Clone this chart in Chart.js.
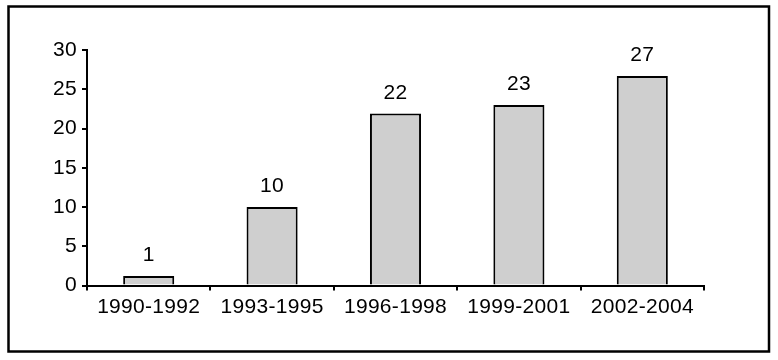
<!DOCTYPE html>
<html>
<head>
<meta charset="utf-8">
<script src="https://cdn.jsdelivr.net/npm/chart.js@4/dist/chart.umd.min.js"></script>
<style>
html,body{margin:0;padding:0;background:#fff;}
#wrap{width:778px;height:360px;position:relative;}
</style>
</head>
<body>
<div id="wrap"><canvas id="c" width="778" height="360"></canvas></div>
<script>
const categories = ["1990-1992", "1993-1995", "1996-1998", "1999-2001", "2002-2004"];
const values = [1.2, 10, 21.9, 23, 26.7];
const valueLabels = ["1", "10", "22", "23", "27"];
const yTicks = [0, 5, 10, 15, 20, 25, 30];

const FONT = "'Liberation Sans', Arial, Helvetica, sans-serif";
const FSIZE = 21;

const framePlugin = {
  id: 'frame',
  beforeDraw(chart) {
    const ctx = chart.ctx;
    ctx.letterSpacing = '0.3px';
    ctx.save();
    ctx.fillStyle = '#fff';
    ctx.fillRect(0, 0, chart.width, chart.height);
    ctx.strokeStyle = '#000';
    ctx.lineWidth = 2.5;
    ctx.strokeRect(8.5, 6.5, 760.5, 345);
    ctx.restore();
  },
  afterDatasetsDraw(chart) {
    const ctx = chart.ctx;
    const meta = chart.getDatasetMeta(0);
    ctx.save();
    ctx.font = FSIZE + 'px ' + FONT;
    ctx.fillStyle = '#000';
    ctx.textAlign = 'center';
    ctx.textBaseline = 'alphabetic';
    meta.data.forEach((bar, i) => {
      ctx.fillText(valueLabels[i], bar.x, bar.y - 15);
    });
    ctx.restore();
  }
};

new Chart(document.getElementById('c'), {
  type: 'bar',
  data: {
    labels: categories,
    datasets: [{
      data: values,
      backgroundColor: '#cfcfcf',
      borderColor: '#000',
      borderWidth: 2,
      borderSkipped: 'bottom',
      categoryPercentage: 1,
      barPercentage: 0.414
    }]
  },
  options: {
    responsive: false,
    animation: false,
    events: [],
    layout: { padding: { left: 0, top: 50, right: 74, bottom: 0 } },
    plugins: { legend: { display: false }, tooltip: { enabled: false }, title: { display: false } },
    scales: {
      x: {
        offset: true,
        grid: { offset: true, drawOnChartArea: false, drawTicks: true, tickLength: 5, color: '#000', lineWidth: 2 },
        border: { display: true, color: '#000', width: 2 },
        ticks: { color: '#000', font: { family: FONT, size: FSIZE }, padding: 4, maxRotation: 0, autoSkip: false },
        afterFit(scale) { scale.height = 360 - 285.5; }
      },
      y: {
        min: 0, max: 30,
        afterBuildTicks(scale) { scale.ticks = yTicks.map(v => ({ value: v })); },
        grid: { drawOnChartArea: false, drawTicks: true, tickLength: 5, color: '#000', lineWidth: 2 },
        border: { display: true, color: '#000', width: 2 },
        ticks: { color: '#000', font: { family: FONT, size: FSIZE }, padding: 5 },
        afterFit(scale) { scale.width = 87; }
      }
    }
  },
  plugins: [framePlugin]
});
</script>
</body>
</html>
